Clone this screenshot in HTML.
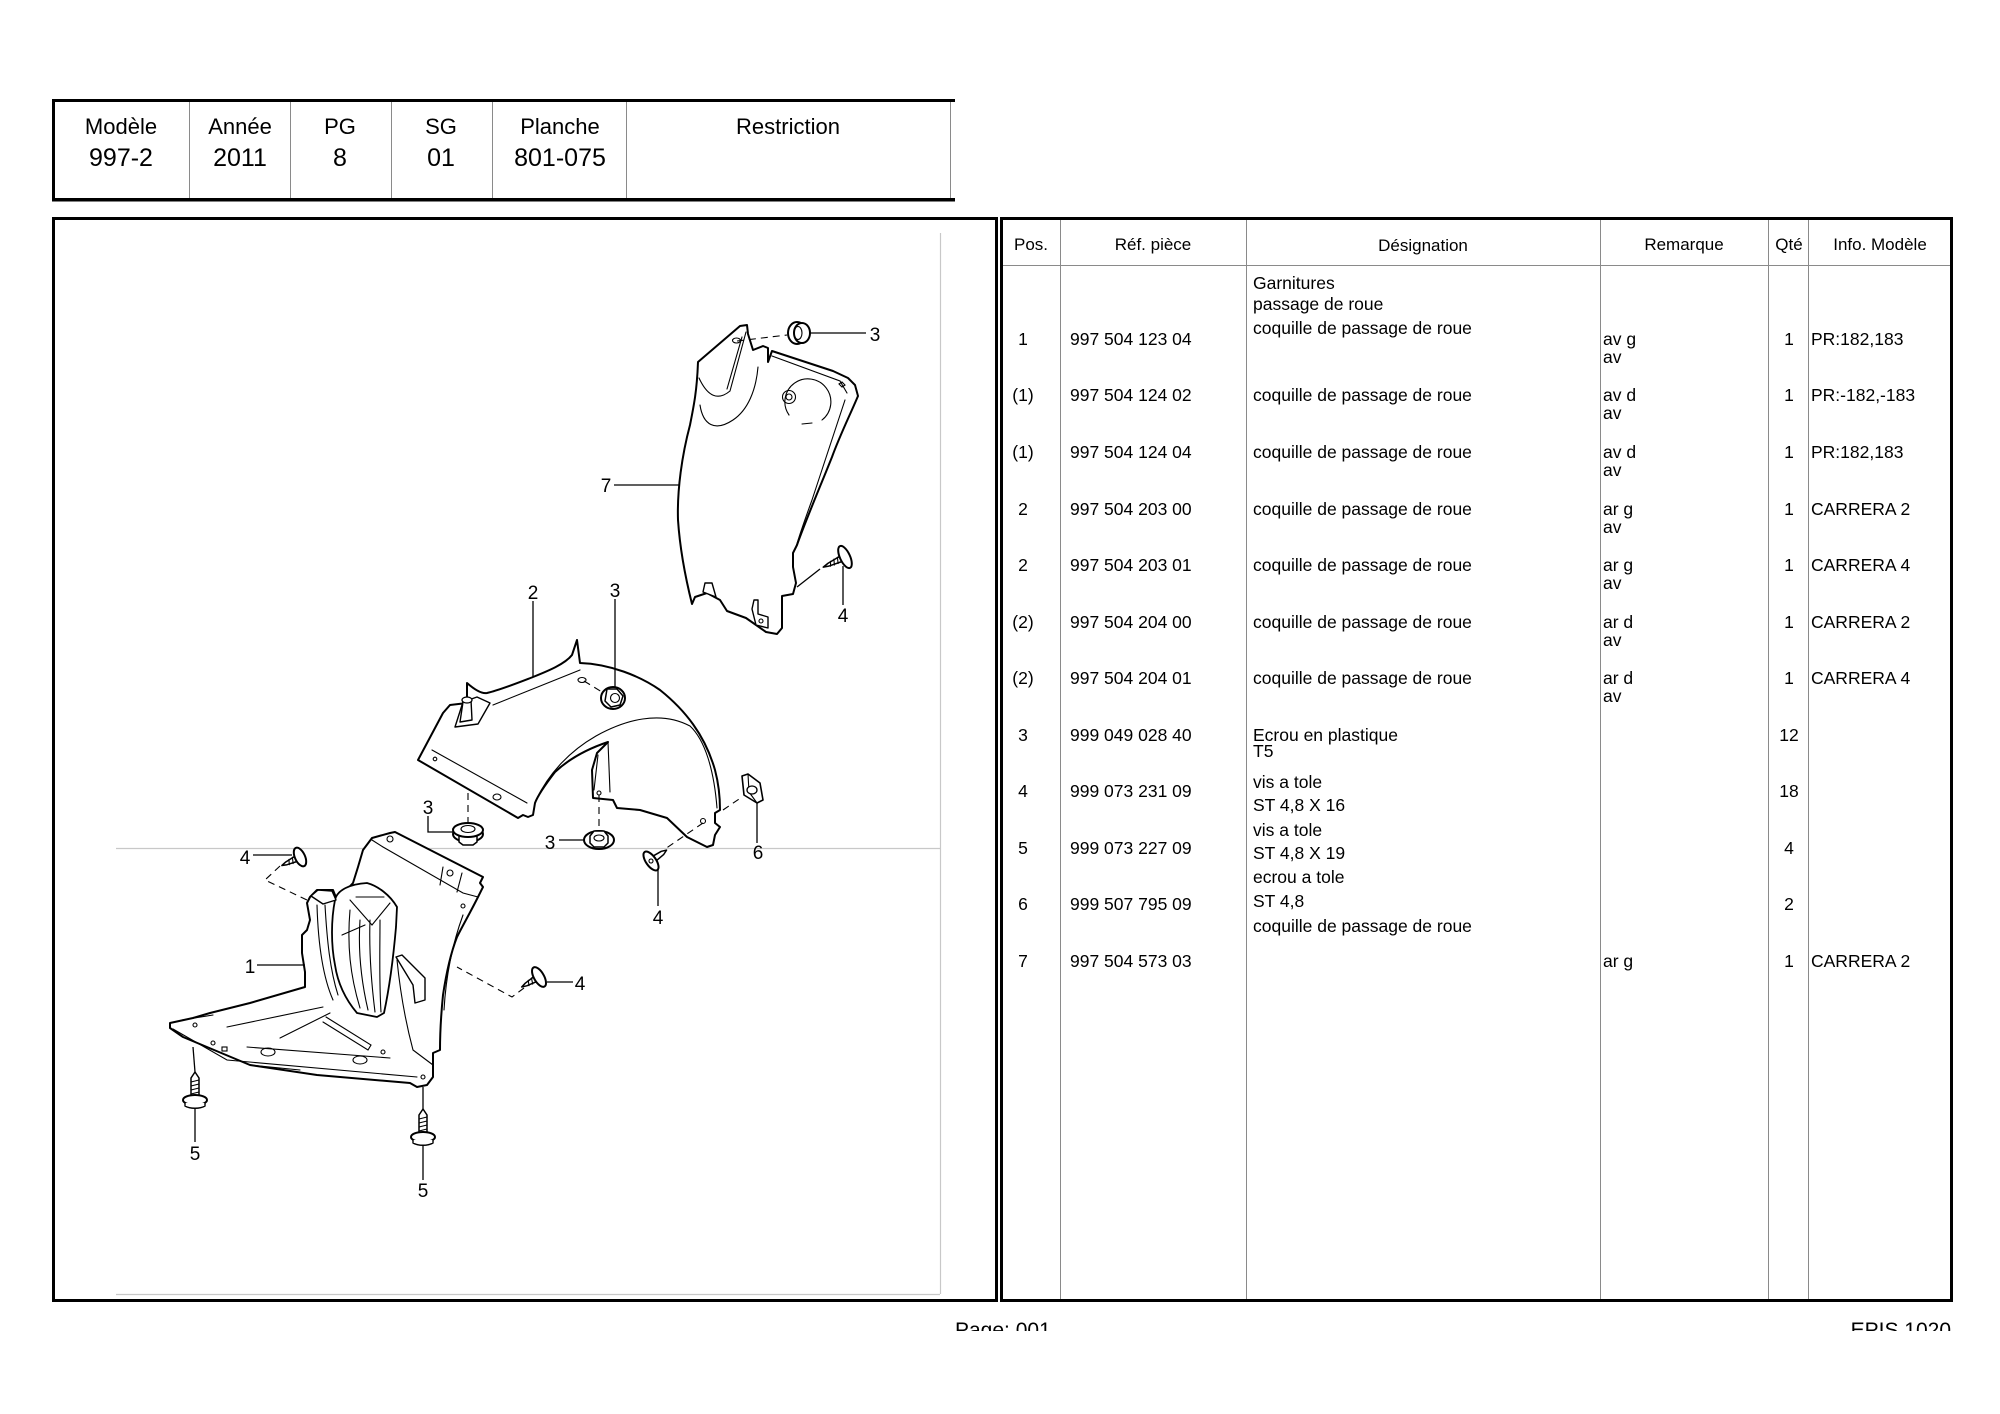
<!DOCTYPE html>
<html><head><meta charset="utf-8"><style>
html,body{margin:0;padding:0;background:#fff;}
svg{display:block;}
text{font-family:"Liberation Sans",Arial,sans-serif;fill:#000;}
.lb{font-size:22px;}
.vl{font-size:25px;}
.th{font-size:17px;}
.td{font-size:17.5px;}
.dl{font-size:19px;}
.ft{font-size:21px;}
.o{fill:#fff;stroke:#000;stroke-width:2;stroke-linejoin:round;stroke-linecap:round;}
.i{fill:none;stroke:#000;stroke-width:1.1;stroke-linecap:round;}
.ld{fill:none;stroke:#000;stroke-width:1.3;}
.ds{fill:none;stroke:#000;stroke-width:1.1;stroke-dasharray:7,5;}
</style></head><body>
<svg width="2000" height="1414" viewBox="0 0 2000 1414" xmlns="http://www.w3.org/2000/svg">
<rect width="2000" height="1414" fill="#fff"/>

<!-- HEADER BOX -->
<rect x="52" y="99" width="903" height="3" fill="#000"/>
<rect x="52" y="198" width="903" height="3.5" fill="#000"/>
<rect x="52" y="99" width="3" height="102" fill="#000"/>
<g stroke="#8a8a8a" stroke-width="1">
<line x1="189.5" y1="102" x2="189.5" y2="198"/>
<line x1="290.5" y1="102" x2="290.5" y2="198"/>
<line x1="391.5" y1="102" x2="391.5" y2="198"/>
<line x1="492.5" y1="102" x2="492.5" y2="198"/>
<line x1="626.5" y1="102" x2="626.5" y2="198"/>
<line x1="950.5" y1="102" x2="950.5" y2="198"/>
</g>
<g text-anchor="middle">
<text class="lb" x="121" y="134">Modèle</text>
<text class="lb" x="240" y="134">Année</text>
<text class="lb" x="340" y="134">PG</text>
<text class="lb" x="441" y="134">SG</text>
<text class="lb" x="560" y="134">Planche</text>
<text class="lb" x="788" y="134">Restriction</text>
<text class="vl" x="121" y="166">997-2</text>
<text class="vl" x="240" y="166">2011</text>
<text class="vl" x="340" y="166">8</text>
<text class="vl" x="441" y="166">01</text>
<text class="vl" x="560" y="166">801-075</text>
</g>

<!-- DIAGRAM BOX -->
<rect x="53.5" y="218.5" width="943" height="1082" fill="none" stroke="#000" stroke-width="3"/>
<g stroke="#c8c8c8" stroke-width="1.2">
<line x1="940.5" y1="233" x2="940.5" y2="1294"/>
<line x1="116" y1="1294.5" x2="940" y2="1294.5"/>
<line x1="116" y1="848.5" x2="940" y2="848.5"/>
</g>

<!-- TABLE BOX -->
<rect x="1001.5" y="218.5" width="950" height="1082" fill="none" stroke="#000" stroke-width="3"/>
<g stroke="#8a8a8a" stroke-width="1">
<line x1="1060.5" y1="220" x2="1060.5" y2="1299"/>
<line x1="1246.5" y1="220" x2="1246.5" y2="1299"/>
<line x1="1600.5" y1="220" x2="1600.5" y2="1299"/>
<line x1="1768.5" y1="220" x2="1768.5" y2="1299"/>
<line x1="1808.5" y1="220" x2="1808.5" y2="1299"/>
<line x1="1003" y1="265.5" x2="1950" y2="265.5"/>
</g>
<g text-anchor="middle" class="th">
<text x="1031" y="250">Pos.</text>
<text x="1153" y="250">Réf. pièce</text>
<text x="1423" y="251">Désignation</text>
<text x="1684" y="250">Remarque</text>
<text x="1789" y="250">Qté</text>
<text x="1880" y="250">Info. Modèle</text>
</g>

<g class="td">
<g text-anchor="middle">
<text x="1023" y="345">1</text>
<text x="1023" y="401">(1)</text>
<text x="1023" y="458">(1)</text>
<text x="1023" y="515">2</text>
<text x="1023" y="571">2</text>
<text x="1023" y="628">(2)</text>
<text x="1023" y="684">(2)</text>
<text x="1023" y="741">3</text>
<text x="1023" y="797">4</text>
<text x="1023" y="854">5</text>
<text x="1023" y="910">6</text>
<text x="1023" y="967">7</text>
</g>
<text x="1070" y="345">997 504 123 04</text>
<text x="1070" y="401">997 504 124 02</text>
<text x="1070" y="458">997 504 124 04</text>
<text x="1070" y="515">997 504 203 00</text>
<text x="1070" y="571">997 504 203 01</text>
<text x="1070" y="628">997 504 204 00</text>
<text x="1070" y="684">997 504 204 01</text>
<text x="1070" y="741">999 049 028 40</text>
<text x="1070" y="797">999 073 231 09</text>
<text x="1070" y="854">999 073 227 09</text>
<text x="1070" y="910">999 507 795 09</text>
<text x="1070" y="967">997 504 573 03</text>
<text x="1253" y="289">Garnitures</text>
<text x="1253" y="310">passage de roue</text>
<text x="1253" y="334">coquille de passage de roue</text>
<text x="1253" y="401">coquille de passage de roue</text>
<text x="1253" y="458">coquille de passage de roue</text>
<text x="1253" y="515">coquille de passage de roue</text>
<text x="1253" y="571">coquille de passage de roue</text>
<text x="1253" y="628">coquille de passage de roue</text>
<text x="1253" y="684">coquille de passage de roue</text>
<text x="1253" y="741">Ecrou en plastique</text>
<text x="1253" y="757">T5</text>
<text x="1253" y="788">vis a tole</text>
<text x="1253" y="811">ST 4,8 X 16</text>
<text x="1253" y="836">vis a tole</text>
<text x="1253" y="859">ST 4,8 X 19</text>
<text x="1253" y="883">ecrou a tole</text>
<text x="1253" y="907">ST 4,8</text>
<text x="1253" y="932">coquille de passage de roue</text>
<text x="1603" y="345">av g</text>
<text x="1603" y="363">av</text>
<text x="1603" y="401">av d</text>
<text x="1603" y="419">av</text>
<text x="1603" y="458">av d</text>
<text x="1603" y="476">av</text>
<text x="1603" y="515">ar g</text>
<text x="1603" y="533">av</text>
<text x="1603" y="571">ar g</text>
<text x="1603" y="589">av</text>
<text x="1603" y="628">ar d</text>
<text x="1603" y="646">av</text>
<text x="1603" y="684">ar d</text>
<text x="1603" y="702">av</text>
<text x="1603" y="967">ar g</text>
<g text-anchor="middle">
<text x="1789" y="345">1</text>
<text x="1789" y="401">1</text>
<text x="1789" y="458">1</text>
<text x="1789" y="515">1</text>
<text x="1789" y="571">1</text>
<text x="1789" y="628">1</text>
<text x="1789" y="684">1</text>
<text x="1789" y="741">12</text>
<text x="1789" y="797">18</text>
<text x="1789" y="854">4</text>
<text x="1789" y="910">2</text>
<text x="1789" y="967">1</text>
</g>
<text x="1811" y="345">PR:182,183</text>
<text x="1811" y="401">PR:-182,-183</text>
<text x="1811" y="458">PR:182,183</text>
<text x="1811" y="515">CARRERA 2</text>
<text x="1811" y="571">CARRERA 4</text>
<text x="1811" y="628">CARRERA 2</text>
<text x="1811" y="684">CARRERA 4</text>
<text x="1811" y="967">CARRERA 2</text>
</g>

<!-- FOOTER (clipped) -->
<text class="ft" x="955" y="1337">Page: 001</text>
<text class="ft" x="1951" y="1337" text-anchor="end">EPIS 1020</text>
<rect x="0" y="1331" width="2000" height="90" fill="#fff"/>

<!-- ================= DIAGRAM ================= -->
<!-- PART 7 -->
<path class="o" d="M698,362 L740,326 L747,325 L748,334 L753,350 L763,346 L768,348 L768,362 L772,351 L833,371 L848,378 L855,385 L858,396 C850,415 840,435 832,457 C820,487 805,522 797,545 L793,553 L793,567 L796,583 L793,594 L782,596 L782,628 L777,634 L766,632 L746,618 L727,611 L720,600 L707,593 L695,597 L692,604 C686,580 680,550 678,520 C677,490 682,455 690,425 C694,405 697,390 698,362 Z"/>
<path class="i" d="M746,332 L730,391 M742,337 L727,389 M699,378 Q712,406 730,391 M700,405 C703,425 715,432 733,420 C748,410 756,390 758,367 M772,356 L840,381 L847,393 M845,400 C835,430 822,470 812,500 C804,522 798,540 796,547 M789,415 A23,23 0 1,1 822,420 M802,424 L812,423"/>
<ellipse class="i" cx="736.5" cy="340.5" rx="4" ry="2.5"/>
<circle class="i" cx="789" cy="397" r="6.5"/>
<circle class="i" cx="789" cy="397" r="3"/>
<path class="i" d="M842,382 l3,3 l-3,2 l-3,-3z"/>
<path class="o" style="stroke-width:1.4" d="M703,592 L705,583 L712,583 L716,597 Z"/>
<path class="o" style="stroke-width:1.4" d="M752,609 L754,600 L758,600 L758,614 L768,617 L768,628 L756,625 Z"/>
<circle class="i" cx="761" cy="621" r="2"/>
<ellipse class="o" cx="797" cy="333" rx="9" ry="11"/>
<ellipse class="o" cx="802" cy="333" rx="8" ry="10"/>
<ellipse class="i" cx="798" cy="333" rx="4" ry="6.5"/>
<line class="ld" x1="810" y1="333" x2="866" y2="333"/>
<path class="ds" d="M737,341 L787,335"/>
<text class="dl" x="875" y="341" text-anchor="middle">3</text>
<line class="ld" x1="614" y1="485" x2="680" y2="485"/>
<text class="dl" x="606" y="492" text-anchor="middle">7</text>
<g transform="translate(845,557) rotate(-25)">
<path class="o" style="stroke-width:1.5" d="M-3,-3 L-18,-1.5 L-24,0 L-18,1.5 L-3,3 Z"/>
<path class="i" d="M-7,-3 l-2,6 M-11,-2.7 l-2,5.5 M-15,-2.2 l-2,4.5"/>
<ellipse class="o" cx="0" cy="0" rx="5" ry="12"/>
</g>
<line class="ld" x1="797" y1="587" x2="820" y2="569"/>
<line class="ld" x1="843" y1="566" x2="843" y2="605"/>
<text class="dl" x="843" y="622" text-anchor="middle">4</text>

<!-- PART 2 -->
<path class="o" d="M418,760 L443,713 L450,705 L467,703 L467,683 C475,690 482,694 487,693 C500,690 520,682 533,677 C548,671 565,664 572,655 L577,640 L580,663 C610,664 640,676 660,690 C685,710 705,735 715,770 C719,785 720,800 720,810 L715,813 L715,823 L720,827 L715,835 L713,845 L707,847 L687,837 L667,818 L640,810 L617,808 L613,800 L593,798 L592,770 L597,753 L608,742 C590,748 570,758 555,772 C545,785 538,795 535,803 L533,815 L528,817 L523,815 L518,818 Z"/>
<path class="i" d="M493,705 L580,670 M432,750 L527,803 M536,800 C548,775 568,752 596,736 C625,720 660,710 690,726 C705,740 714,770 717,808 M608,742 L610,792 M598,755 L594,790"/>
<path class="o" style="stroke-width:1.4" d="M455,727 L463,702 L477,697 L490,703 L478,724 Z"/>
<path class="o" style="stroke-width:1.4" d="M460,722 L463,702 L471,700 L472,720 Z"/>
<ellipse class="o" style="stroke-width:1.3" cx="467" cy="700" rx="5" ry="3"/>
<circle class="i" cx="435" cy="759" r="1.8"/>
<ellipse class="i" cx="497" cy="797" rx="4" ry="3"/>
<ellipse class="i" cx="582" cy="680" rx="4" ry="2.5"/>
<circle class="i" cx="599" cy="793" r="2"/>
<circle class="i" cx="703" cy="821" r="2.5"/>
<g transform="translate(613,698)">
<ellipse class="o" cx="0" cy="0" rx="12" ry="11"/>
<path class="o" style="stroke-width:1.5" d="M-6,-9 L4,-9 L10,-2 L7,7 L-2,9 L-8,3 Z"/>
<circle class="i" cx="2" cy="0" r="4.5"/>
</g>
<path class="ds" d="M584,681 L602,692"/>
<line class="ld" x1="533" y1="601" x2="533" y2="677"/>
<text class="dl" x="533" y="599" text-anchor="middle">2</text>
<line class="ld" x1="615" y1="599" x2="615" y2="688"/>
<text class="dl" x="615" y="597" text-anchor="middle">3</text>
<g transform="translate(468,832)">
<ellipse class="o" cx="0" cy="2" rx="15" ry="8"/>
<path class="o" style="stroke-width:1.5" d="M-9,4 L-9,10 L-5,13 L5,13 L9,10 L9,4"/>
<ellipse class="o" cx="0" cy="-2" rx="15" ry="7"/>
<ellipse class="i" cx="0" cy="-3" rx="7" ry="3.5"/>
</g>
<path class="ds" d="M468,793 L468,824"/>
<polyline class="ld" points="428,816 428,832 453,832"/>
<text class="dl" x="428" y="814" text-anchor="middle">3</text>
<g transform="translate(599,838)">
<ellipse class="o" cx="0" cy="2" rx="15" ry="9"/>
<path class="o" style="stroke-width:1.5" d="M-9,-2 L-5,-7 L5,-7 L9,-2 L9,5 L5,9 L-5,9 L-9,5 Z"/>
<ellipse class="i" cx="0" cy="0" rx="5" ry="3"/>
</g>
<path class="ds" d="M599,795 L599,826"/>
<line class="ld" x1="559" y1="840" x2="584" y2="840"/>
<text class="dl" x="550" y="849" text-anchor="middle">3</text>
<path class="o" style="stroke-width:1.6" d="M742,776 L748,774 L760,783 L763,800 L757,803 L744,795 Z"/>
<path class="i" d="M748,774 L749,792 L757,803"/>
<ellipse class="o" style="stroke-width:1.3" cx="752" cy="790" rx="5" ry="4"/>
<path class="ds" d="M723,810 L742,797"/>
<line class="ld" x1="757" y1="803" x2="757" y2="843"/>
<text class="dl" x="758" y="859" text-anchor="middle">6</text>
<g transform="translate(651,861) rotate(-35)">
<path class="o" style="stroke-width:1.5" d="M3,-3 L14,-2 L19,0 L14,2 L3,3 Z"/>
<ellipse class="o" cx="0" cy="0" rx="5" ry="11"/>
<circle class="i" cx="0" cy="0" r="2"/>
</g>
<path class="ds" d="M703,823 L665,849"/>
<line class="ld" x1="658" y1="869" x2="658" y2="906"/>
<text class="dl" x="658" y="924" text-anchor="middle">4</text>

<!-- PART 1 -->
<path class="o" d="M170,1023 L193,1018 L210,1013 L250,1003 L305,987 L305,972 L302,953 L302,935 L307,930 L310,920 L307,903 L310,897 L317,890 L333,890 L337,900 L353,883 L358,867 L363,850 L372,838 L390,833 L395,832 L483,877 L480,883 L483,887 L478,897 C470,913 463,925 457,937 C450,955 446,975 443,995 C441,1015 440,1035 440,1050 L433,1053 L433,1077 L427,1085 L417,1087 L410,1083 L317,1075 L250,1065 L183,1037 L170,1028 Z"/>
<path class="i" d="M383,847 L463,893 L478,897 M443,867 L440,885 M462,873 L457,892 M372,840 L383,847 M463,915 C452,945 446,975 444,1010 M397,960 C400,990 405,1020 413,1050 L433,1065 M317,905 C318,940 322,975 333,1000 M325,905 C327,940 330,970 338,995 M227,1027 L323,1007 M280,1038 L330,1013 M326,1017 L371,1045 L368,1050 L323,1022 M173,1029 L227,1060 L417,1077 M247,1047 L390,1058 M182,1020 L213,1015 M250,1065 L300,1070"/>
<path class="o" style="stroke-width:1.8" d="M335,900 C337,890 350,884 367,883 C378,886 390,895 397,907 L396,927 C394,950 390,985 384,1013 L377,1017 L357,1013 C346,1000 338,985 335,965 C331,945 331,920 335,900 Z"/>
<path class="i" d="M350,910 C347,945 350,975 360,1008 M360,920 C358,950 361,980 368,1010 M370,920 C369,950 371,980 375,1012 M380,920 C380,950 379,980 381,1012 M350,900 L372,925 L390,903 M356,897 L384,897 M342,935 L365,925"/>
<path class="o" style="stroke-width:1.4" d="M311,896 L318,890 L332,891 L336,900 L323,904 Z"/>
<path class="o" style="stroke-width:1.4" d="M396,957 L402,955 L425,978 L425,1000 L415,1003 L413,985 Z"/>
<circle class="i" cx="390" cy="839" r="3"/>
<circle class="i" cx="450" cy="873" r="3"/>
<circle class="i" cx="463" cy="906" r="2"/>
<circle class="i" cx="195" cy="1025" r="2"/>
<circle class="i" cx="213" cy="1043" r="2"/>
<rect class="i" x="222" y="1047" width="5" height="4"/>
<ellipse class="i" cx="268" cy="1052" rx="7" ry="4"/>
<ellipse class="i" cx="360" cy="1060" rx="7" ry="4"/>
<circle class="i" cx="383" cy="1052" r="2"/>
<circle class="i" cx="423" cy="1077" r="2"/>
<g transform="translate(300,857) rotate(-25)">
<path class="o" style="stroke-width:1.5" d="M-3,-3 L-15,-1.5 L-20,0 L-15,1.5 L-3,3 Z"/>
<path class="i" d="M-7,-3 l-2,6 M-11,-2.5 l-2,5"/>
<ellipse class="o" cx="0" cy="0" rx="5" ry="10"/>
</g>
<line class="ld" x1="253" y1="855" x2="292" y2="855"/>
<text class="dl" x="245" y="864" text-anchor="middle">4</text>
<path class="ds" d="M280,866 L265,880 L307,900"/>
<line class="ld" x1="257" y1="965" x2="305" y2="965"/>
<text class="dl" x="250" y="973" text-anchor="middle">1</text>
<g transform="translate(539,977) rotate(-30)">
<path class="o" style="stroke-width:1.5" d="M-3,-3 L-15,-1.5 L-20,0 L-15,1.5 L-3,3 Z"/>
<path class="i" d="M-7,-3 l-2,6 M-11,-2.5 l-2,5"/>
<ellipse class="o" cx="0" cy="0" rx="5" ry="11"/>
</g>
<line class="ld" x1="547" y1="982" x2="573" y2="982"/>
<text class="dl" x="580" y="990" text-anchor="middle">4</text>
<path class="ds" d="M524,988 L512,997 L457,967"/>
<line class="ld" x1="193" y1="1047" x2="195" y2="1072"/>
<g transform="translate(195,1098)">
<path class="o" style="stroke-width:1.5" d="M-4,-2 L-4,-20 L0,-26 L4,-20 L4,-2 Z"/>
<path class="i" d="M-4,-16 l8,-2 M-4,-12 l8,-2 M-4,-8 l8,-2 M-4,-4 l8,-2"/>
<ellipse class="o" cx="0" cy="2" rx="12" ry="5"/>
<path class="o" style="stroke-width:1.4" d="M-10,5 L-10,8 C-5,11 5,11 10,8 L10,5"/>
</g>
<line class="ld" x1="195" y1="1109" x2="195" y2="1142"/>
<text class="dl" x="195" y="1160" text-anchor="middle">5</text>
<line class="ld" x1="423" y1="1087" x2="423" y2="1110"/>
<g transform="translate(423,1135)">
<path class="o" style="stroke-width:1.5" d="M-4,-2 L-4,-20 L0,-26 L4,-20 L4,-2 Z"/>
<path class="i" d="M-4,-16 l8,-2 M-4,-12 l8,-2 M-4,-8 l8,-2 M-4,-4 l8,-2"/>
<ellipse class="o" cx="0" cy="2" rx="12" ry="5"/>
<path class="o" style="stroke-width:1.4" d="M-10,5 L-10,8 C-5,11 5,11 10,8 L10,5"/>
</g>
<line class="ld" x1="423" y1="1146" x2="423" y2="1180"/>
<text class="dl" x="423" y="1197" text-anchor="middle">5</text>
</svg>
</body></html>
